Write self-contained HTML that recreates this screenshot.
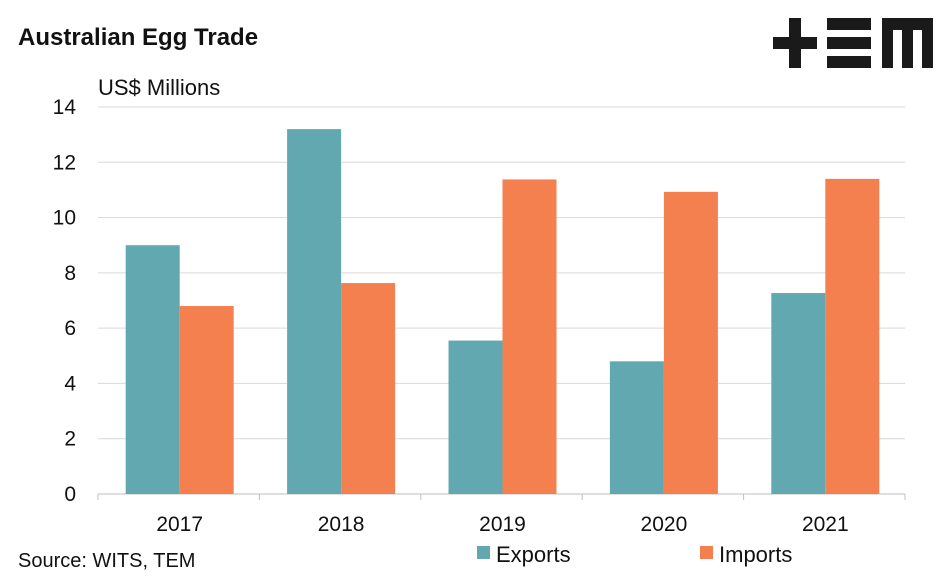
<!DOCTYPE html>
<html><head><meta charset="utf-8"><style>
body{margin:0;background:#fff;font-family:"Liberation Sans",sans-serif;}
svg text{font-family:"Liberation Sans",sans-serif;fill:#111;}
</style></head><body>
<svg width="947" height="579">
<text x="18" y="45" font-size="24" font-weight="bold">Australian Egg Trade</text>
<g fill="#1a1a1a">
<rect x="789" y="18" width="12" height="50"/><rect x="773" y="37" width="44" height="12"/>
<rect x="827" y="18" width="44" height="12"/><rect x="827" y="37" width="44" height="12"/><rect x="827" y="56" width="44" height="12"/>
<rect x="882" y="18" width="51" height="12"/><rect x="882" y="18" width="11" height="50"/><rect x="902" y="18" width="11" height="50"/><rect x="922" y="18" width="11" height="50"/>
</g>
<text x="98" y="95" font-size="22">US$ Millions</text>
<g id="grid"></g><g id="bars"></g><g id="labels"></g>
<text x="18" y="567" font-size="20">Source: WITS, TEM</text>
<rect x="477" y="546" width="13" height="13" fill="#62a8b0"/>
<text x="496" y="562" font-size="22">Exports</text>
<rect x="700" y="546" width="13" height="13" fill="#f4804f"/>
<text x="719" y="562" font-size="22">Imports</text>
</svg>
<script>
const categories=["2017","2018","2019","2020","2021"];
const exportsVals=[9.0,13.2,5.55,4.8,7.27];
const importsVals=[6.8,7.63,11.38,10.93,11.4];
const yTicks=[0,2,4,6,8,10,12,14];
const NS="http://www.w3.org/2000/svg";
const x0=98,x1=905,y0=494,y1=107,yMax=14;
const y=v=>y0-(v/yMax)*(y0-y1);
const bw=(x1-x0)/categories.length;
const cx=i=>x0+bw*(i+0.5)+1;
function mk(t,a,p){const e=document.createElementNS(NS,t);for(const k in a)e.setAttribute(k,a[k]);p.appendChild(e);return e;}
const G=document.getElementById('grid'),B=document.getElementById('bars'),L=document.getElementById('labels');
yTicks.forEach(t=>{
 const l=mk('line',{x1:x0,x2:x1,y1:y(t),y2:y(t),stroke:t===0?'#bfbfbf':'#d9d9d9','stroke-width':1},G);
 
 
 const tx=mk('text',{x:76,y:y(t)+7,'font-size':21,'text-anchor':'end'},L);tx.textContent=t;
 
 
});
for(let i=0;i<=categories.length;i++){
 const l=mk('line',{x1:x0+bw*i,x2:x0+bw*i,y1:y0,y2:y0+6,stroke:'#bfbfbf'},G);
 
 
}
categories.forEach((c,i)=>{
 const w=54;
 const e=mk('rect',{x:cx(i)-w,y:y(exportsVals[i]),width:w,height:y0-y(exportsVals[i]),fill:'#62a8b0'},B);
 
 
 const m=mk('rect',{x:cx(i),y:y(importsVals[i]),width:w,height:y0-y(importsVals[i]),fill:'#f4804f'},B);
 
 
 const tx=mk('text',{x:cx(i),y:531,'font-size':21,'text-anchor':'middle'},L);tx.textContent=c;
 
 
});
</script>
</body></html>
